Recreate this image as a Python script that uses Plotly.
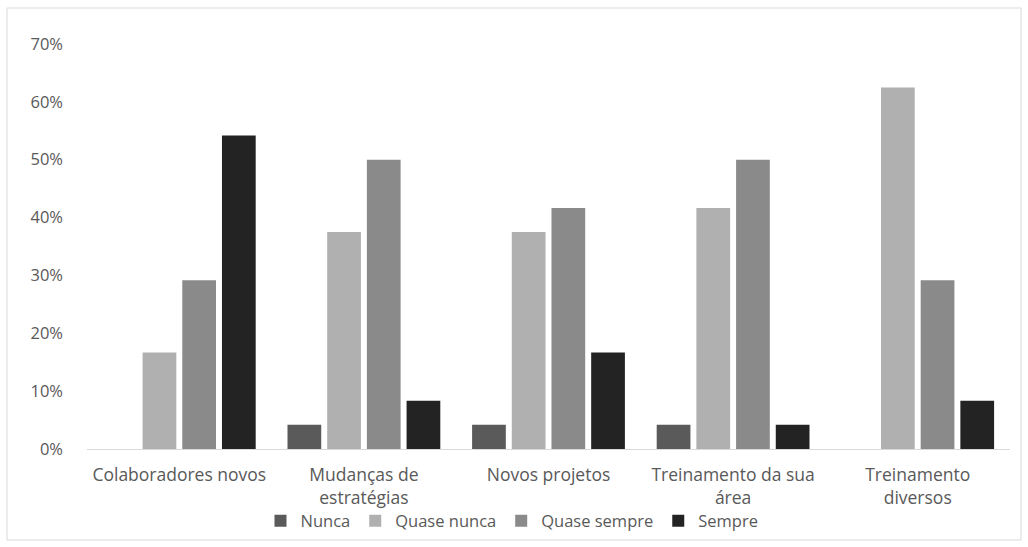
import plotly.graph_objects as go

categories = [
    "Colaboradores novos",
    "Mudanças de<br>estratégias",
    "Novos projetos",
    "Treinamento da sua<br>área",
    "Treinamento<br>diversos",
]
series_names = ["Nunca", "Quase nunca", "Quase sempre", "Sempre"]
nunca = [0.0, 0.0417, 0.0417, 0.0417, 0.0]
quase_nunca = [0.1667, 0.375, 0.375, 0.4167, 0.625]
quase_sempre = [0.2917, 0.50, 0.4167, 0.50, 0.2917]
sempre = [0.5417, 0.0833, 0.1667, 0.0417, 0.0833]
y_ticks = [0, 0.1, 0.2, 0.3, 0.4, 0.5, 0.6, 0.7]
y_tick_labels = ["0%", "10%", "20%", "30%", "40%", "50%", "60%", "70%"]

colors = ["#5a5a5a", "#b0b0b0", "#8a8a8a", "#232323"]
values = [nunca, quase_nunca, quase_sempre, sempre]

fig = go.Figure()
for name, vals, col in zip(series_names, values, colors):
    fig.add_trace(go.Bar(
        x=categories, y=vals, name=name,
        marker=dict(color=col, line=dict(width=0)),
    ))

W, H = 1028, 547
ml, mr, mt, mb = 87, 18, 44, 98
pw, ph = W - ml - mr, H - mt - mb

def px_to_paper_x(px):
    return (px - ml) / pw

def px_to_paper_y(py):
    return (H - mb - py) / ph

fig.update_layout(
    width=W, height=H,
    margin=dict(l=ml, r=mr, t=mt, b=mb, autoexpand=False),
    paper_bgcolor="white", plot_bgcolor="white",
    barmode="group", bargap=0.14, bargroupgap=0.15,
    font=dict(family="Open Sans, Arial, sans-serif", color="#595959"),
    showlegend=True,
    legend=dict(
        orientation="h", x=px_to_paper_x(512), xanchor="center",
        y=px_to_paper_y(521), yanchor="middle",
        bgcolor="rgba(0,0,0,0)",
        font=dict(size=16.5, color="#595959"),
        itemwidth=30, tracegroupgap=0,
    ),
    xaxis=dict(
        showgrid=False, showline=True, linecolor="#d9d9d9", linewidth=1,
        ticks="", tickfont=dict(size=17.5, color="#595959"),
        zeroline=False, ticklabelstandoff=10,
    ),
    yaxis=dict(
        range=[0, 0.7], tickvals=y_ticks, ticktext=y_tick_labels,
        showgrid=False, zeroline=False, showline=False,
        tickfont=dict(size=16.5, color="#595959"), ticks="",
        ticklabelstandoff=23,
    ),
    shapes=[dict(
        type="rect", xref="paper", yref="paper",
        x0=px_to_paper_x(7), x1=px_to_paper_x(1021),
        y0=px_to_paper_y(540), y1=px_to_paper_y(8),
        line=dict(color="#d9d9d9", width=1), fillcolor="rgba(0,0,0,0)",
        layer="below",
    )],
)

fig.write_html("out.html")
